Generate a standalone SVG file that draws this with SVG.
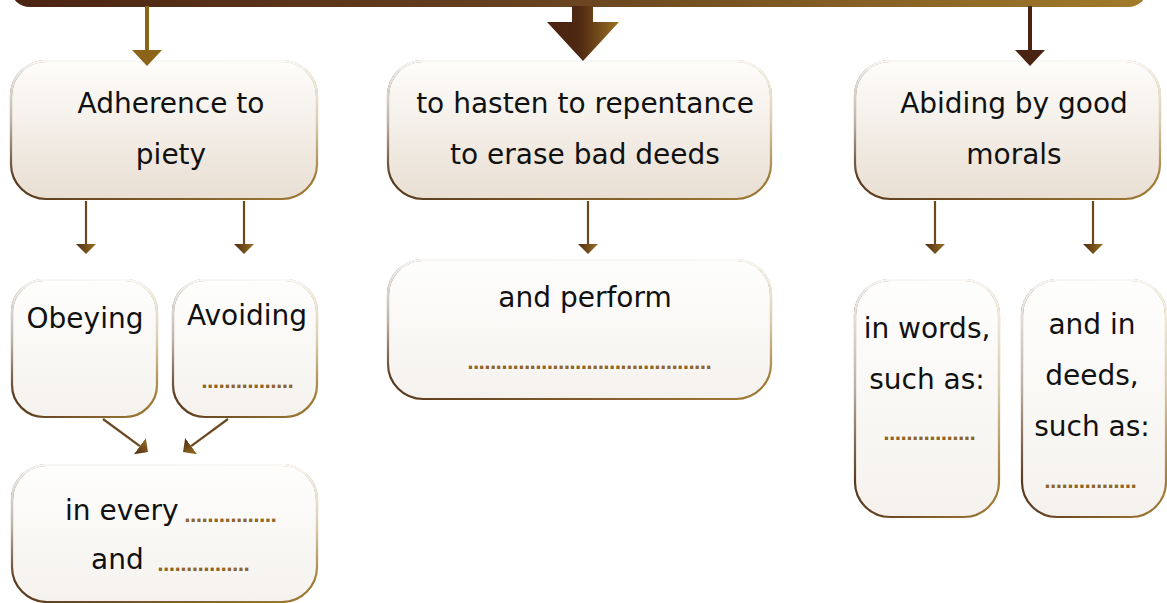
<svg xmlns="http://www.w3.org/2000/svg" width="1167" height="603" viewBox="0 0 1167 603">
<defs>
<linearGradient id="barG" x1="0" y1="0" x2="1" y2="0">
<stop offset="0" stop-color="#4a2412"/>
<stop offset="0.5" stop-color="#6a4520"/>
<stop offset="1" stop-color="#a27b2a"/>
</linearGradient>
<linearGradient id="blockG" x1="0" y1="0" x2="1" y2="0">
<stop offset="0" stop-color="#4a2210"/>
<stop offset="0.45" stop-color="#4e2812"/>
<stop offset="1" stop-color="#9b7224"/>
</linearGradient>
<linearGradient id="fillTop" x1="0" y1="0" x2="0" y2="1">
<stop offset="0" stop-color="#fefdfb"/>
<stop offset="1" stop-color="#e9dfd3"/>
</linearGradient>
<linearGradient id="fillLow" x1="0" y1="0" x2="0" y2="1">
<stop offset="0" stop-color="#fefefd"/>
<stop offset="1" stop-color="#f5f2ee"/>
</linearGradient>
<linearGradient id="strokeH" x1="0" y1="0" x2="1" y2="0">
<stop offset="0" stop-color="#5a3a1f"/>
<stop offset="1" stop-color="#a17c36"/>
</linearGradient>
<linearGradient id="strokeW" x1="0" y1="0" x2="0" y2="1">
<stop offset="0" stop-color="#ffffff" stop-opacity="0.95"/>
<stop offset="0.45" stop-color="#ffffff" stop-opacity="0.6"/>
<stop offset="0.85" stop-color="#ffffff" stop-opacity="0"/>
</linearGradient>
<linearGradient id="headG" x1="0" y1="0" x2="0" y2="1">
<stop offset="0" stop-color="#9a7024"/>
<stop offset="1" stop-color="#4e2c12"/>
</linearGradient>
<marker id="ah" markerUnits="userSpaceOnUse" viewBox="0 0 10 20" markerWidth="10" markerHeight="20" refX="0" refY="10" orient="auto">
<path d="M0,0 L10,10 L0,20 Z" fill="url(#headG)"/>
</marker>
<style>
.box{stroke:url(#strokeH);stroke-width:2.2}
.hl{fill:none;stroke:url(#strokeW);stroke-width:2.4}
.top{fill:url(#fillTop)}
.low{fill:url(#fillLow)}
.t{font-family:"DejaVu Sans","Liberation Sans",sans-serif;font-size:28px;fill:#111}
.m{text-anchor:middle}
.d{font-family:"DejaVu Sans","Liberation Sans",sans-serif;font-size:18px;font-weight:bold;fill:#8f662a}
.c{fill:none;stroke:#6b4822;stroke-width:2.2;marker-end:url(#ah)}
</style>
</defs>
<rect x="10" y="-40" width="1138" height="47" rx="20" fill="url(#barG)"/>
<g id="piety">
<rect class="box top" x="11" y="61" width="306" height="138" rx="35"/>
<rect class="hl" x="11" y="61" width="306" height="138" rx="35"/>
<text class="t m" x="171" y="113">Adherence to</text>
<text class="t m" x="171" y="164">piety</text>
</g>
<g id="repentance">
<rect class="box top" x="388" y="61" width="383" height="138" rx="35"/>
<rect class="hl" x="388" y="61" width="383" height="138" rx="35"/>
<text class="t m" x="585" y="113">to hasten to repentance</text>
<text class="t m" x="585" y="164">to erase bad deeds</text>
</g>
<g id="morals">
<rect class="box top" x="855" y="61" width="305" height="138" rx="35"/>
<rect class="hl" x="855" y="61" width="305" height="138" rx="35"/>
<text class="t m" x="1014" y="113">Abiding by good</text>
<text class="t m" x="1014" y="164">morals</text>
</g>
<g id="obeying">
<rect class="box low" x="12" y="280" width="145" height="137" rx="32"/>
<rect class="hl" x="12" y="280" width="145" height="137" rx="32"/>
<text class="t m" x="85" y="328">Obeying</text>
</g>
<g id="avoiding">
<rect class="box low" x="173" y="280" width="144" height="137" rx="32"/>
<rect class="hl" x="173" y="280" width="144" height="137" rx="32"/>
<text class="t m" x="247" y="325">Avoiding</text>
<text class="d" x="201" y="388" textLength="93" lengthAdjust="spacing">................</text>
</g>
<g id="every">
<rect class="box low" x="12" y="465" width="305" height="137" rx="35"/>
<rect class="hl" x="12" y="465" width="305" height="137" rx="35"/>
<text class="t" x="65" y="520">in every</text>
<text class="d" x="184" y="522" textLength="93" lengthAdjust="spacing">................</text>
<text class="t" x="91" y="569">and</text>
<text class="d" x="157" y="571" textLength="93" lengthAdjust="spacing">................</text>
</g>
<g id="perform">
<rect class="box low" x="388" y="260" width="383" height="139" rx="35"/>
<rect class="hl" x="388" y="260" width="383" height="139" rx="35"/>
<text class="t m" x="585" y="307">and perform</text>
<text class="d" x="467" y="369" textLength="245" lengthAdjust="spacing">...........................................</text>
</g>
<g id="words">
<rect class="box low" x="855" y="280" width="144" height="237" rx="35"/>
<rect class="hl" x="855" y="280" width="144" height="237" rx="35"/>
<text class="t m" x="927" y="338">in words,</text>
<text class="t m" x="927" y="389">such as:</text>
<text class="d" x="883" y="440" textLength="93" lengthAdjust="spacing">................</text>
</g>
<g id="deeds">
<rect class="box low" x="1022" y="280" width="144" height="237" rx="35"/>
<rect class="hl" x="1022" y="280" width="144" height="237" rx="35"/>
<text class="t m" x="1092" y="334">and in</text>
<text class="t m" x="1092" y="385">deeds,</text>
<text class="t m" x="1092" y="436">such as:</text>
<text class="d" x="1044" y="488" textLength="93" lengthAdjust="spacing">................</text>
</g>
<g id="connectors">
<rect x="145" y="6" width="4" height="45" fill="#8b6418"/>
<polygon points="132,50 162,50 147,66" fill="#8b6418"/>
<polygon points="572,6 593,6 593,22 619,22 583,61 547,22 572,22" fill="url(#blockG)"/>
<rect x="1028" y="6" width="4" height="45" fill="#4a2412"/>
<polygon points="1015,50 1045,50 1030,66" fill="#4a2412"/>
<line class="c" x1="86" y1="201" x2="86" y2="244"/>
<line class="c" x1="244" y1="201" x2="244" y2="244"/>
<line class="c" x1="588" y1="201" x2="588" y2="244"/>
<line class="c" x1="935" y1="201" x2="935" y2="244"/>
<line class="c" x1="1093" y1="201" x2="1093" y2="244"/>
<line class="c" x1="103" y1="419" x2="139.9" y2="446.1"/>
<line class="c" x1="228" y1="419" x2="191.1" y2="446.1"/>
</g>
</svg>
